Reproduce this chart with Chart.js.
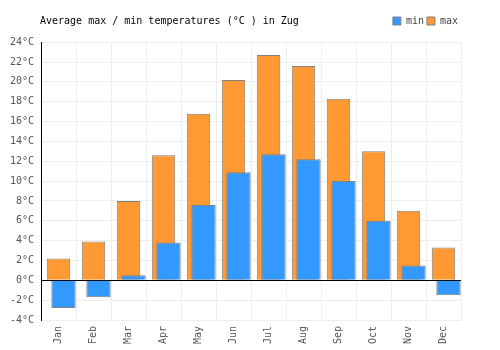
<!DOCTYPE html>
<html>
<head>
<meta charset="utf-8">
<script src="https://cdn.jsdelivr.net/npm/chart.js@4/dist/chart.umd.min.js"></script>
<style>
  body { margin: 0; background: #fff; }
</style>
</head>
<body>
<canvas id="chart" width="500" height="350"></canvas>
<script>
const months = ['Jan', 'Feb', 'Mar', 'Apr', 'May', 'Jun', 'Jul', 'Aug', 'Sep', 'Oct', 'Nov', 'Dec'];
const minTemps = [-2.8, -1.7, 0.5, 3.8, 7.6, 10.9, 12.7, 12.2, 10.0, 6.0, 1.5, -1.5];
const maxTemps = [2.2, 3.9, 8.0, 12.6, 16.8, 20.2, 22.7, 21.6, 18.3, 13.0, 7.0, 3.3];
const yMin = -4, yMax = 24, yStep = 2;

const monoFont = { family: 'DejaVu Sans Mono', size: 10 };

// draws the title on the legend row, left side
const titlePlugin = {
    id: 'sideTitle',
    afterDraw(chart) {
        const ctx = chart.ctx;
        ctx.save();
        ctx.font = '10px "DejaVu Sans Mono"';
        ctx.fillStyle = '#000';
        ctx.textBaseline = 'middle';
        ctx.fillText('Average max / min temperatures (°C ) in Zug', 40, 21);
        ctx.restore();
    }
};

function renderChart() {
    const ctx = document.getElementById('chart').getContext('2d');
    new Chart(ctx, {
        type: 'bar',
        data: {
            labels: months,
            datasets: [
                {
                    // empty placeholder so "min" sits on the right half of the group
                    label: '',
                    data: [],
                    order: 0
                },
                {
                    label: 'min',
                    data: minTemps,
                    backgroundColor: '#3399ff',
                    borderColor: '#808080',
                    borderWidth: 1,
                    categoryPercentage: 0.571,
                    barPercentage: 2.44,
                    order: 1
                },
                {
                    label: 'max',
                    data: maxTemps,
                    backgroundColor: '#ff9933',
                    borderColor: '#808080',
                    borderWidth: 1,
                    grouped: false,
                    categoryPercentage: 0.67,
                    barPercentage: 1,
                    order: 2
                }
            ]
        },
        options: {
            responsive: false,
            animation: false,
            layout: { padding: { left: 0, right: 39, top: 13, bottom: 0 } },
            plugins: {
                title: { display: false },
                // used only as a small gap between legend and plot
                subtitle: {
                    display: true,
                    text: '',
                    weight: 900,
                    font: { size: 1 },
                    padding: { top: 0, bottom: 5 }
                },
                tooltip: { enabled: false },
                legend: {
                    position: 'top',
                    align: 'end',
                    labels: {
                        boxWidth: 8,
                        boxHeight: 8,
                        padding: 3,
                        color: '#444',
                        font: monoFont,
                        filter: item => item.text !== ''
                    }
                }
            },
            scales: {
                x: {
                    grid: { color: '#eeeeee', drawTicks: false },
                    border: { display: false },
                    ticks: {
                        color: '#555',
                        font: monoFont,
                        minRotation: 90,
                        maxRotation: 90,
                        padding: 6
                    },
                    afterFit: scale => { scale.height = 30; }
                },
                y: {
                    min: yMin,
                    max: yMax,
                    grid: {
                        color: c => c.tick && c.tick.value === 0 ? '#000' : '#eeeeee',
                        drawTicks: false
                    },
                    border: { color: '#000' },
                    ticks: {
                        stepSize: yStep,
                        color: '#555',
                        font: monoFont,
                        padding: 7,
                        callback: v => v + '°C'
                    },
                    afterFit: scale => { scale.width = 41; }
                }
            }
        },
        plugins: [titlePlugin]
    });
}
renderChart();
</script>
</body>
</html>
